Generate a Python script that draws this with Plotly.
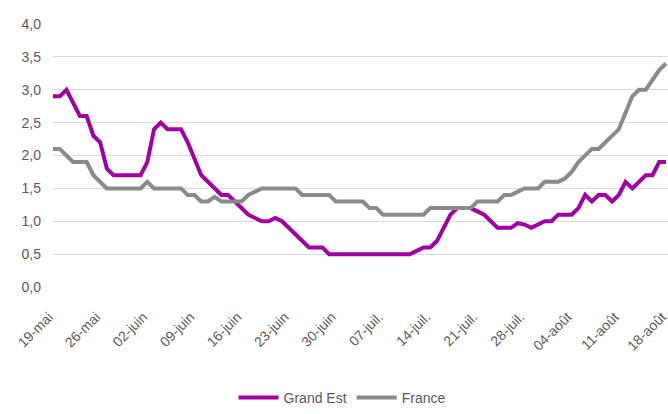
import plotly.graph_objects as go

tick_labels = ["19-mai", "26-mai", "02-juin", "09-juin", "16-juin", "23-juin", "30-juin",
               "07-juil.", "14-juil.", "21-juil.", "28-juil.", "04-août", "11-août", "18-août"]

# daily values, 19 May -> 18 Aug (92 days)
grand_est = [
    2.9, 2.9, 3.0, 2.8, 2.6, 2.6, 2.3, 2.2, 1.8, 1.7,      # 0-9
    1.7, 1.7, 1.7, 1.7, 1.9, 2.4, 2.5, 2.4, 2.4, 2.4,      # 10-19
    2.2, 1.95, 1.7, 1.6, 1.5, 1.4, 1.4, 1.3, 1.2, 1.1,     # 20-29
    1.05, 1.0, 1.0, 1.05, 1.0, 0.9, 0.8, 0.7, 0.6, 0.6,    # 30-39
    0.6, 0.5, 0.5, 0.5, 0.5, 0.5, 0.5, 0.5, 0.5, 0.5,      # 40-49
    0.5, 0.5, 0.5, 0.5, 0.55, 0.6, 0.6, 0.7, 0.9, 1.1,     # 50-59
    1.2, 1.2, 1.2, 1.15, 1.1, 1.0, 0.9, 0.9, 0.9, 0.97,    # 60-69
    0.95, 0.9, 0.95, 1.0, 1.0, 1.1, 1.1, 1.1, 1.2, 1.4,    # 70-79
    1.3, 1.4, 1.4, 1.3, 1.4, 1.6, 1.5, 1.6, 1.7, 1.7,      # 80-89
    1.9, 1.9,                                              # 90-91
]
france = [
    2.1, 2.1, 2.0, 1.9, 1.9, 1.9, 1.7, 1.6, 1.5, 1.5,      # 0-9
    1.5, 1.5, 1.5, 1.5, 1.6, 1.5, 1.5, 1.5, 1.5, 1.5,      # 10-19
    1.4, 1.4, 1.3, 1.3, 1.37, 1.3, 1.3, 1.3, 1.3, 1.4,     # 20-29
    1.45, 1.5, 1.5, 1.5, 1.5, 1.5, 1.5, 1.4, 1.4, 1.4,     # 30-39
    1.4, 1.4, 1.3, 1.3, 1.3, 1.3, 1.3, 1.2, 1.2, 1.1,      # 40-49
    1.1, 1.1, 1.1, 1.1, 1.1, 1.1, 1.2, 1.2, 1.2, 1.2,      # 50-59
    1.2, 1.2, 1.2, 1.3, 1.3, 1.3, 1.3, 1.4, 1.4, 1.45,     # 60-69
    1.5, 1.5, 1.5, 1.6, 1.6, 1.6, 1.65, 1.75, 1.9, 2.0,    # 70-79
    2.1, 2.1, 2.2, 2.3, 2.4, 2.65, 2.9, 3.0, 3.0, 3.15,    # 80-89
    3.3, 3.4,                                              # 90-91
]

days = list(range(len(grand_est)))
tick_pos = list(range(0, len(days), 7))

font_family = "Liberation Sans"
text_color = "#595959"

fig = go.Figure()
fig.add_trace(go.Scatter(x=days, y=grand_est, mode="lines", name="Grand Est",
                         line=dict(color="#A000A0", width=4)))
fig.add_trace(go.Scatter(x=days, y=france, mode="lines", name="France",
                         line=dict(color="#8A8A8A", width=4)))

fig.update_layout(
    width=668, height=414,
    margin=dict(l=53, r=0, t=24, b=127),
    paper_bgcolor="white", plot_bgcolor="white",
    font=dict(family=font_family, size=13, color=text_color),
    showlegend=True,
    legend=dict(orientation="h", x=0.47, xanchor="center",
                yref="container", y=-0.012, yanchor="bottom",
                font=dict(size=14, color=text_color), itemwidth=40, tracegroupgap=0),
    xaxis=dict(range=[0, len(days) - 0.7], tickmode="array", tickvals=tick_pos,
               ticktext=tick_labels, tickangle=-45, showgrid=False, zeroline=False,
               showline=False, ticks="", automargin=False, ticklabelstandoff=18,
               ticklabelshift=-4, ticklabeloverflow="allow",
               tickfont=dict(size=14, color=text_color)),
    yaxis=dict(range=[0, 4.0], tickvals=[0, 0.5, 1, 1.5, 2, 2.5, 3, 3.5, 4],
               ticktext=["0,0", "0,5", "1,0", "1,5", "2,0", "2,5", "3,0", "3,5", "4,0"],
               showgrid=True, gridcolor="#D9D9D9", gridwidth=1, zeroline=False,
               showline=False, ticks="", automargin=False, ticklabelstandoff=11,
               tickfont=dict(size=14, color=text_color)),
)

fig.write_html("out.html", config={"displayModeBar": False},
               post_script="document.body.style.margin='0';document.body.style.overflow='hidden';")
